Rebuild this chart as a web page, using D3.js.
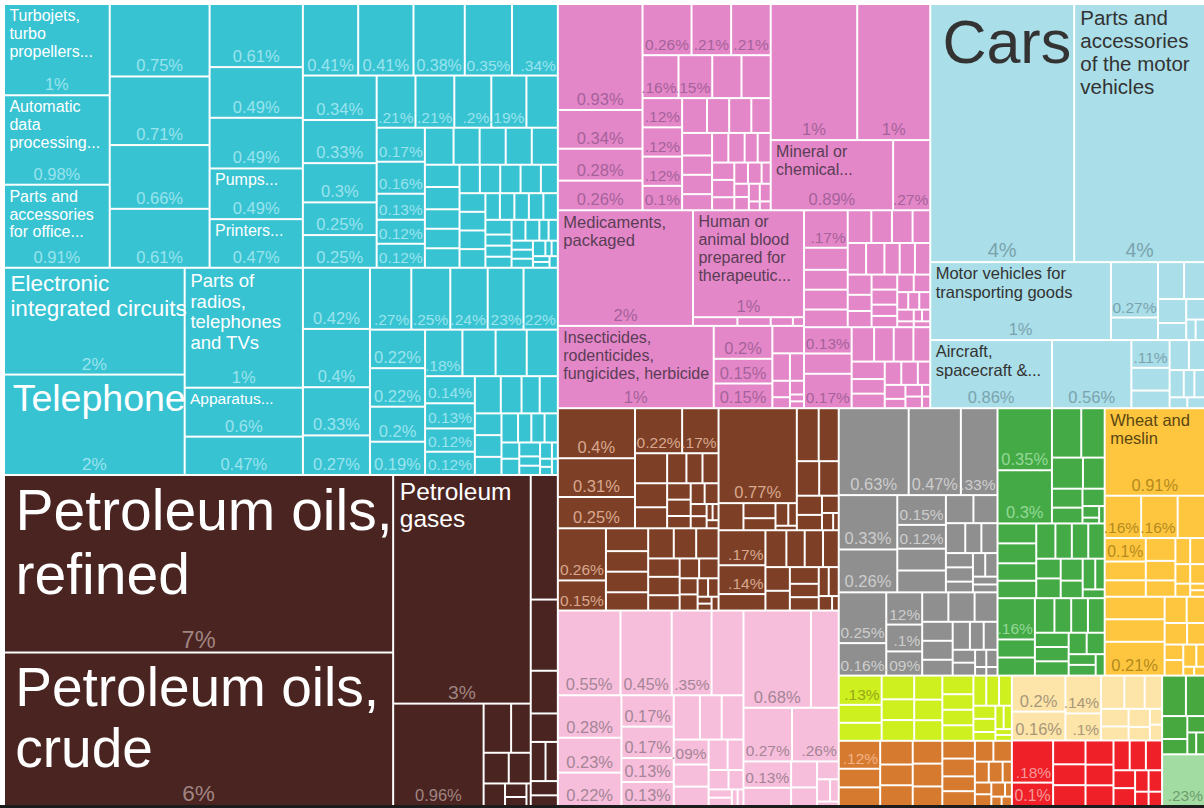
<!DOCTYPE html>
<html>
<head>
<meta charset="utf-8">
<script src="https://cdn.jsdelivr.net/npm/d3@7"></script>
<style>
  html, body { margin: 0; padding: 0; background: #fff; }
  svg { display: block; font-family: "Liberation Sans", Arial, Helvetica, sans-serif; }
</style>
</head>
<body>
<svg width="1204" height="808"></svg>
<script>
// share of exports, in %

// machinery: boilers & machines (top) and electrical machinery (bottom)
const machA = [1.0, 0.98, 0.91, 0.75, 0.71, 0.66, 0.61, 0.61, 0.49, 0.49, 0.49, 0.47,
  0.41, 0.41, 0.38, 0.35, 0.34, 0.34, 0.33, 0.3, 0.25, 0.25, 0.21, 0.21, 0.2, 0.19, 0.17,
  0.17, 0.16, 0.13, 0.12, 0.12, 0.11, 0.1, 0.1, 0.1, 0.1, 0.08, 0.08, 0.07, 0.07, 0.07,
  0.06, 0.06, 0.06, 0.06, 0.05, 0.05, 0.05, 0.05, 0.05, 0.04, 0.04, 0.04, 0.04, 0.04, 0.04,
  0.03, 0.03, 0.03, 0.03, 0.03, 0.02, 0.02, 0.02, 0.02, 0.02, 0.02, 0.01, 0.01, 0.01, 0.01, 0.01];
const machANames = ["Turbojets,\nturbo\npropellers...", "Automatic\ndata\nprocessing...",
  "Parts and\naccessories\nfor office...", "", "", "", "", "", "", "", "Pumps...", "Printers..."];
const machB = [2.0, 1.88, 1.47, 0.6, 0.47, 0.4249, 0.4049, 0.3349, 0.2749, 0.2651, 0.25, 0.24,
  0.23, 0.22, 0.22, 0.22, 0.2, 0.19, 0.18, 0.16, 0.15, 0.15, 0.14, 0.13, 0.12, 0.12,
  0.1, 0.08, 0.07, 0.07, 0.06, 0.06, 0.05, 0.05, 0.04, 0.04, 0.04, 0.03, 0.03, 0.03,
  0.02, 0.02, 0.02, 0.01, 0.01, 0.01, 0.01];
const machBNames = ["Electronic\nintegrated circuits", "Telephone", "Parts of\nradios,\ntelephones\nand TVs", "Apparatus..."];

// mineral products
const minFuel = [7.16, 6.19, 3.26, 0.96, 0.14, 0.1, 0.08, 0.07, 0.05, 0.03, 0.02, 0.01];
const minFuelNames = ["Petroleum oils,\nrefined", "Petroleum oils,\ncrude", "Petroleum\ngases"];
const minOther = [0.35, 0.2, 0.12, 0.08, 0.06, 0.05, 0.04, 0.03];

// chemical products
const chemA = [0.93, 0.34, 0.28, 0.26, 0.26, 0.21, 0.21, 0.16, 0.15, 0.13, 0.13, 0.12, 0.12, 0.12,
  0.1, 0.09, 0.08, 0.08, 0.07, 0.07, 0.06, 0.06, 0.05, 0.05, 0.05, 0.04, 0.04, 0.04, 0.04,
  0.03, 0.03, 0.03, 0.02, 0.02, 0.02, 0.02, 0.02, 0.01, 0.01];
const chemB = [1.22, 1.03, 0.89, 0.27];
const chemBNames = ["", "", "Mineral or\nchemical..."];
const chemC = [1.62, 1.23, 0.04, 0.03, 0.02, 0.01];
const chemCNames = ["Medicaments,\npackaged", "Human or\nanimal blood\nprepared for\ntherapeutic..."];
const chemF = [1.33, 0.2, 0.15, 0.15, 0.09, 0.05, 0.04, 0.03, 0.02, 0.02, 0.01, 0.01];
const chemFNames = ["Insecticides,\nrodenticides,\nfungicides, herbicide"];
const chemD = [0.17, 0.1, 0.09, 0.09, 0.08, 0.08, 0.07, 0.07, 0.06, 0.06, 0.06, 0.05, 0.05, 0.05, 0.05,
  0.04, 0.04, 0.04, 0.04, 0.03, 0.03, 0.03, 0.03, 0.02, 0.02, 0.02, 0.02, 0.01, 0.01, 0.01, 0.01];
const chemE = [0.13, 0.1, 0.17, 0.08, 0.07, 0.07, 0.06, 0.06, 0.05, 0.05, 0.04, 0.04, 0.03, 0.03,
  0.02, 0.02, 0.02, 0.01, 0.01];

// transportation
const trVeh = [3.85, 3.5, 1.46, 0.27, 0.11, 0.1, 0.08, 0.07, 0.05, 0.04, 0.02, 0.02];
const trVehNames = ["Cars", "Parts and\naccessories\nof the motor\nvehicles", "Motor vehicles for\ntransporting goods"];
const trAir = [0.86, 0.56, 0.11, 0.09, 0.07, 0.06, 0.05, 0.04, 0.03, 0.03, 0.02, 0.02];
const trAirNames = ["Aircraft,\nspacecraft &..."];

// metals
const metA = [0.4, 0.31, 0.25, 0.22, 0.17, 0.1, 0.08, 0.07, 0.06, 0.05, 0.05, 0.04, 0.04, 0.03, 0.03, 0.03, 0.02, 0.02, 0.01, 0.01, 0.01];
const metB = [0.26, 0.15, 0.1, 0.09, 0.09, 0.08, 0.08, 0.07, 0.07, 0.06, 0.06, 0.05, 0.04, 0.04, 0.03, 0.03, 0.02, 0.02, 0.01, 0.01, 0.01];
const metC1 = [0.77, 0.07, 0.05, 0.04, 0.03, 0.02, 0.01];
const metC2 = [0.12, 0.11, 0.08, 0.07, 0.05, 0.04, 0.03, 0.02, 0.01];
const metD = [0.17, 0.14, 0.08, 0.08, 0.07, 0.07, 0.06, 0.06, 0.05, 0.05, 0.04, 0.04, 0.03, 0.03, 0.02, 0.01];

// plastics and rubbers
const plasA = [0.55, 0.45, 0.35, 0.28, 0.28, 0.23, 0.22, 0.17, 0.17, 0.13, 0.13, 0.12, 0.1, 0.1,
  0.09, 0.08, 0.07, 0.06, 0.05, 0.04, 0.03, 0.02, 0.02, 0.01, 0.01];
const plasB = [0.68, 0.28, 0.27, 0.26, 0.13, 0.09, 0.07, 0.05, 0.04, 0.03, 0.02, 0.01];

// stone and glass
const stoneA = [0.63, 0.47, 0.33];
const stoneB = [0.33, 0.26, 0.15, 0.12, 0.11, 0.11, 0.08, 0.07, 0.06, 0.05, 0.05, 0.04, 0.04, 0.03, 0.03, 0.03, 0.02, 0.02];
const stoneC = [0.25, 0.16, 0.12, 0.1, 0.09, 0.08, 0.08, 0.07, 0.06, 0.06, 0.05, 0.05, 0.04, 0.04, 0.03, 0.03, 0.02, 0.02, 0.01, 0.01];

// textiles
const textA1 = [0.35, 0.3];
const textA2 = [0.15, 0.12, 0.1, 0.07, 0.06, 0.05, 0.04, 0.02, 0.01, 0.01];
const textB = [0.08, 0.08, 0.07, 0.07, 0.07, 0.06, 0.06, 0.06, 0.05, 0.05, 0.05, 0.04, 0.04, 0.03, 0.02];
const textC = [0.16, 0.07, 0.07, 0.07, 0.06, 0.06, 0.06, 0.05, 0.05, 0.05, 0.04, 0.04, 0.03, 0.03, 0.02];

// vegetable products
const wheat = 0.91;
const vegB = [0.16, 0.16, 0.12, 0.1, 0.08, 0.07, 0.07, 0.06, 0.05, 0.04, 0.04, 0.03, 0.03, 0.02, 0.01, 0.01];
const vegC = [0.14, 0.14, 0.21, 0.06, 0.05, 0.05, 0.04, 0.03, 0.03, 0.03, 0.02, 0.01, 0.01];

// smaller sections
const wood = [0.13, 0.08, 0.08, 0.08, 0.07, 0.07, 0.07, 0.06, 0.06, 0.06, 0.05, 0.05, 0.05,
  0.04, 0.04, 0.04, 0.03, 0.03, 0.02, 0.02, 0.02, 0.01, 0.01];
const hides = [0.12, 0.08, 0.08, 0.08, 0.07, 0.07, 0.07, 0.07, 0.06, 0.06, 0.06, 0.05, 0.05,
  0.04, 0.04, 0.03, 0.03, 0.02, 0.02, 0.02, 0.02, 0.01, 0.01, 0.01];
const paper = [0.2, 0.16, 0.14, 0.1, 0.08, 0.07, 0.06, 0.05, 0.04, 0.04, 0.03, 0.02, 0.02];
const instruments = [0.18, 0.1, 0.08, 0.07, 0.07, 0.07, 0.06, 0.06, 0.05, 0.05, 0.05, 0.04, 0.04, 0.03, 0.03, 0.02, 0.02];
const animal = [0.1, 0.08, 0.06, 0.04, 0.03, 0.02, 0.02];
const footwear = [0.23];

function group(values, names, tile) {
  return { tile: tile, children: values.map((v, i) => ({ value: v, name: (names && names[i]) || "" })) };
}

const sectors = [
  { key: "machinery", tile: "slice", children: [group(machA, machANames), group(machB, machBNames)] },
  { key: "mineral", children: [group(minFuel, minFuelNames), group(minOther)] },
  { key: "chemicals", children: [group(chemA), group(chemB, chemBNames), group(chemC, chemCNames),
      group(chemF, chemFNames), group(chemD), group(chemE)] },
  { key: "transport", children: [group(trVeh, trVehNames), group(trAir, trAirNames)] },
  { key: "metals", children: [group(metA), group(metB), { children: [group(metC1), group(metC2)] }, group(metD)] },
  { key: "plastics", children: [group(plasA), group(plasB)] },
  { key: "stone", tile: "slice", children: [group(stoneA, null, "dice"), group(stoneB), group(stoneC)] },
  { key: "textiles", tile: "slice", children: [{ children: [group(textA1), group(textA2)] }, group(textB), group(textC)] },
  { key: "vegetable", tile: "slice", children: [{ value: wheat, name: "Wheat and\nmeslin" }, group(vegB), group(vegC)] },
  Object.assign({ key: "wood" }, group(wood)),
  Object.assign({ key: "hides" }, group(hides)),
  Object.assign({ key: "paper" }, group(paper)),
  Object.assign({ key: "instruments" }, group(instruments)),
  Object.assign({ key: "animal" }, group(animal)),
  Object.assign({ key: "footwear" }, group(footwear))
];

const style = {
  machinery:   { fill: "#38c3d3", name: "#ffffff", pct: "#9ae4ed" },
  mineral:     { fill: "#4a2421", name: "#ffffff", pct: "#a08481" },
  chemicals:   { fill: "#e487c8", name: "#5a3d55", pct: "#a4629a" },
  transport:   { fill: "#aadee8", name: "#333333", pct: "#7aa3ae" },
  metals:      { fill: "#7d4026", name: "#ffffff", pct: "#d9a78f" },
  plastics:    { fill: "#f7bedb", name: "#555555", pct: "#a48596" },
  stone:       { fill: "#8f8f8f", name: "#ffffff", pct: "#cdcdcd" },
  textiles:    { fill: "#43aa46", name: "#ffffff", pct: "#95d896" },
  vegetable:   { fill: "#fec63e", name: "#5a4613", pct: "#b48a1e" },
  wood:        { fill: "#cdf01e", name: "#555555", pct: "#98a81a" },
  hides:       { fill: "#d67a30", name: "#ffffff", pct: "#f2b386" },
  paper:       { fill: "#fde4a8", name: "#555555", pct: "#a8977a" },
  instruments: { fill: "#f02028", name: "#ffffff", pct: "#f59a9a" },
  animal:      { fill: "#47a83f", name: "#ffffff", pct: "#8fd28a" },
  footwear:    { fill: "#a3dca2", name: "#555555", pct: "#6f9c6e" }
};

const nameSize = {
  "Turbojets,\nturbo\npropellers...": 16,
  "Automatic\ndata\nprocessing...": 16,
  "Parts and\naccessories\nfor office...": 16,
  "Pumps...": 16,
  "Printers...": 16,
  "Electronic\nintegrated circuits": 22.5,
  "Telephone": 37.5,
  "Parts of\nradios,\ntelephones\nand TVs": 18.5,
  "Apparatus...": 15.5,
  "Petroleum oils,\nrefined": 57,
  "Petroleum oils,\ncrude": 55,
  "Petroleum\ngases": 24.5,
  "Mineral or\nchemical...": 16,
  "Medicaments,\npackaged": 16.5,
  "Human or\nanimal blood\nprepared for\ntherapeutic...": 16,
  "Insecticides,\nrodenticides,\nfungicides, herbicide": 16,
  "Cars": 61,
  "Parts and\naccessories\nof the motor\nvehicles": 20.5,
  "Motor vehicles for\ntransporting goods": 16.5,
  "Aircraft,\nspacecraft &...": 16.5,
  "Wheat and\nmeslin": 16.5
};

const tiles = { slice: d3.treemapSlice, dice: d3.treemapDice };
function tile(node, x0, y0, x1, y1) {
  (tiles[node.data.tile] || d3.treemapSquarify)(node, x0, y0, x1, y1);
}

const W = 1199, H = 800;
const root = d3.hierarchy({ children: sectors }).sum(d => d.value);
d3.treemap().size([W, H]).paddingInner(2).tile(tile)(root);

const fmt = v => (v >= 1 ? Math.round(v) : +v.toFixed(2)) + "%";

const svg = d3.select("svg");
svg.append("rect").attr("width", 1204).attr("height", 808).attr("fill", "#ffffff");
const g = svg.append("g").attr("transform", "translate(5,5)");

const leaves = root.leaves();
leaves.forEach(d => { d.sector = d.ancestors().find(a => a.depth === 1).data.key; });
leaves.sort((a, b) => a.value - b.value);

const cell = g.selectAll("g.cell").data(leaves).join("g").attr("class", "cell");

cell.append("rect")
  .attr("x", d => d.x0).attr("y", d => d.y0)
  .attr("width", d => Math.max(0, d.x1 - d.x0))
  .attr("height", d => Math.max(0, d.y1 - d.y0))
  .attr("fill", d => style[d.sector].fill);

cell.each(function (d) {
  const w = d.x1 - d.x0, h = d.y1 - d.y0, st = style[d.sector];
  const sel = d3.select(this);
  if (d.data.name) {
    const fs = nameSize[d.data.name] || 15;
    const lh = fs * 1.12;
    const tx = d.x0 + 2 + fs * 0.15;
    const t = sel.append("text").attr("x", tx).attr("y", d.y0 + fs * 0.93 + 1)
      .attr("font-size", fs).attr("fill", st.name);
    d.data.name.split("\n").forEach((line, i) => {
      t.append("tspan").attr("x", tx).attr("dy", i ? lh : 0).text(line);
    });
  }
  if (h < 21 || w < 31) return;
  // share label: fitted to the cell width, never below 15.5px
  const label = fmt(d.value);
  const t = sel.append("text").attr("fill", st.pct).attr("font-size", 100).text(label);
  const em = t.node().getComputedTextLength() / 100;
  const cap = Math.min(24, Math.max(16.5, 10.5 + 0.05 * Math.sqrt(w * h)));
  const fp = Math.max(15.5, Math.min(0.92 * w / em, cap));
  t.attr("font-size", fp).attr("y", d.y1 - 4);
  if (em * fp <= w - 1) {
    t.attr("x", (d.x0 + d.x1) / 2).attr("text-anchor", "middle");
  } else {
    t.text(label.replace(/^0/, ""));
    const sw = t.node().getComputedTextLength();
    if (sw > w + 4) t.remove();
    else t.attr("x", d.x1 - 1).attr("text-anchor", "end");
  }
});

// thin dark band along the bottom edge of the picture
svg.append("rect").attr("x", 0).attr("y", 805).attr("width", 1204).attr("height", 3).attr("fill", "#1c1c1c");
</script>
</body>
</html>
